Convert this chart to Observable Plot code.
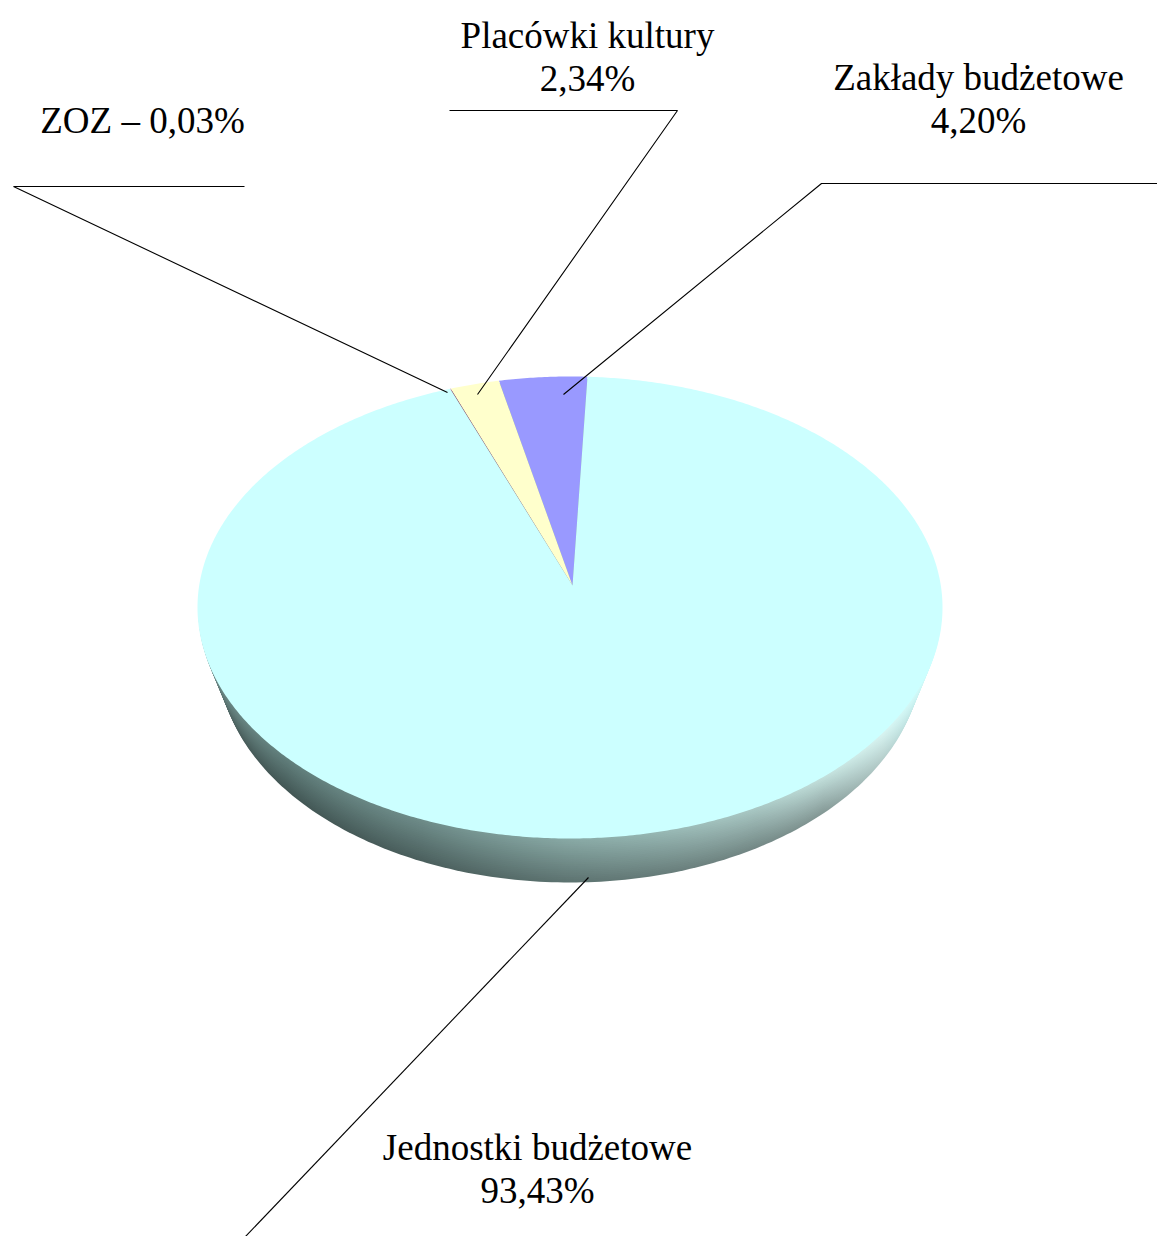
<!DOCTYPE html>
<html><head><meta charset="utf-8">
<script src="https://cdn.jsdelivr.net/npm/d3@7"></script>
<script src="https://cdn.jsdelivr.net/npm/@observablehq/plot@0.6"></script>
<style>html,body{margin:0;padding:0;background:#fff}</style>
</head><body><div id="chart"></div>
<script>
// ---- data ----
const categories = ["Zakłady budżetowe", "Placówki kultury", "ZOZ", "Jednostki budżetowe"];
const shares = [4.20, 2.34, 0.03, 93.43];
const valueLabels = ["4,20%", "2,34%", "0,03%", "93,43%"];
const labelLines = [["Zakłady budżetowe", "4,20%"], ["Placówki kultury", "2,34%"], ["ZOZ – 0,03%"], ["Jednostki budżetowe", "93,43%"]];

// ---- style / layout ----
const sliceColors = ["#9999ff", "#ffffcc", "#993366", "#ccffff"];
const W = 1157, H = 1236;
const cx = 569.5, cy = 607, rx = 372.5, ry = 231;           // top face ellipse
const cyB = 656, rxB = 352, ryB = 226;                       // bottom face ellipse (perspective)
const ax = 572, ay = 585;          // apparent pie centre (perspective)
const startAngle = 2.55;           // degrees clockwise from top, slices run counter-clockwise
const fontSize = 37, lineGap = 43;
const labelLayout = [
  {tx: 978, ty: 77.5, leader: [[1157, 183], [821, 183], [563, 394]]},
  {tx: 587, ty: 35.5, leader: [[449, 110], [677, 110], [477, 394]]},
  {tx: 142, ty: 120.5, leader: [[244, 186], [13, 186], [447, 392]]},
  {tx: 537, ty: 1147.5, leader: [[245, 1236], [588, 877]]}
];

const rad = d => d * Math.PI / 180;
function rimPoint(deg) {
  const t = rad(deg);
  const dx = Math.sin(t) * rx, dy = -Math.cos(t) * ry;
  const ox = (ax - cx) / rx, oy = (ay - cy) / ry, ux = dx / rx, uy = dy / ry;
  const a = ux * ux + uy * uy, b = 2 * (ox * ux + oy * uy), c = ox * ox + oy * oy - 1;
  const s = (-b + Math.sqrt(b * b - 4 * a * c)) / (2 * a);
  return [ax + s * dx, ay + s * dy];
}

// slices on the top face
const total = d3.sum(shares);
let acc = startAngle;
const slicePolys = [];
categories.forEach((cat, i) => {
  const span = shares[i] / total * 360;
  const a1 = acc, a0 = acc - span;
  acc = a0;
  const pts = [{x: ax, y: ay}];
  const n = Math.max(2, Math.ceil(span / 0.5));
  for (let k = 0; k <= n; k++) {
    const [x, y] = rimPoint(a1 - span * k / n);
    pts.push({x, y});
  }
  pts.push({x: ax, y: ay});
  slicePolys.push({cat, color: sliceColors[i], pts});
});

// side: stacked ellipses from the bottom face up to the top face
const L = 24;
const sideLayers = [];
for (let k = L; k >= 1; k--) {
  const t = k / L;
  const ecy = cy + t * (cyB - cy), erx = rx + t * (rxB - rx), ery = ry + t * (ryB - ry);
  const pts = [];
  for (let p = 0; p <= 360; p += 1) pts.push({x: cx + erx * Math.sin(rad(p)), y: ecy - ery * Math.cos(rad(p))});
  sideLayers.push({k, pts});
}

const marks = [];
sideLayers.forEach(({k, pts}) => marks.push(Plot.line(pts, {x: "x", y: "y", fill: `url(#side${k})`, stroke: "none", curve: "linear"})));
slicePolys.forEach(s => marks.push(Plot.line(s.pts, {x: "x", y: "y", fill: s.color, stroke: "none", curve: "linear"})));

// leaders
labelLayout.forEach(l => marks.push(Plot.line(l.leader.map(([x, y]) => ({x, y})), {x: "x", y: "y", stroke: "#000", strokeWidth: 1.1, strokeLinecap: "butt", strokeLinejoin: "miter"})));
// labels
const textRows = [];
labelLines.forEach((lines, i) => lines.forEach((t, j) => textRows.push({t, x: labelLayout[i].tx, y: labelLayout[i].ty + j * lineGap})));
marks.push(Plot.text(textRows, {x: "x", y: "y", text: "t", textAnchor: "middle", fontSize, fontFamily: "Liberation Serif", fill: "#000"}));

const plot = Plot.plot({
  width: W, height: H, margin: 0,
  x: {domain: [0, W], range: [0, W], axis: null},
  y: {domain: [0, H], range: [0, H], axis: null},
  style: {fontFamily: "Liberation Serif", background: "#fff", overflow: "visible"},
  marks
});
// gradients for the side
const svg = d3.select(plot);
const defs = svg.insert("defs", ":first-child");
const topStops = [[0, "#6f8d8a"], [0.12, "#62807d"], [0.3, "#6f8d8a"], [0.5, "#8aaba7"], [0.6, "#95b6b2"], [0.75, "#abcac6"], [0.84, "#c4e2de"], [0.92, "#d8f5f2"], [1, "#ccffff"]];
for (let k = 1; k <= L; k++) {
  const t = k / L;
  const g = defs.append("linearGradient").attr("id", `side${k}`).attr("gradientUnits", "userSpaceOnUse")
    .attr("x1", cx - rx).attr("x2", cx + rx).attr("y1", 0).attr("y2", 0);
  topStops.forEach(([o, c]) => {
    const dark = d3.rgb(c).darker(1.1);
    const f = o > 0.95 ? 0 : t * (o > 0.85 ? 0.5 : 1);
    g.append("stop").attr("offset", o).attr("stop-color", d3.interpolateRgb(c, dark)(f));
  });
}
document.getElementById("chart").appendChild(plot);
</script>
</body></html>
